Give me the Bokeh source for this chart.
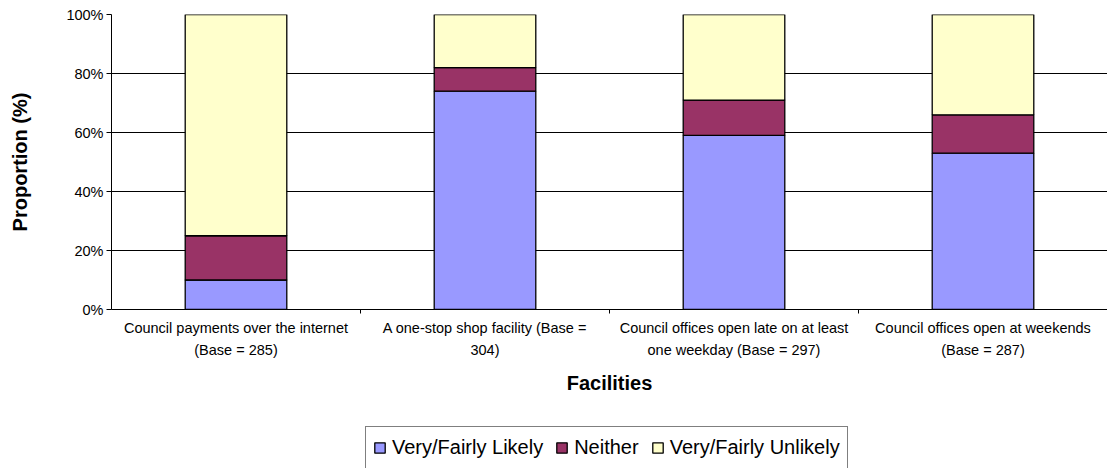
from bokeh.plotting import figure
from bokeh.layouts import column
from bokeh.models import (ColumnDataSource, Range1d, FixedTicker, PrintfTickFormatter,
                          Legend, LegendItem)
from bokeh.embed import file_html
from bokeh.resources import INLINE

categories = [
    "Council payments over the internet\n(Base = 285)",
    "A one-stop shop facility (Base =\n304)",
    "Council offices open late on at least\none weekday (Base = 297)",
    "Council offices open at weekends\n(Base = 287)",
]
series = ["Very/Fairly Likely", "Neither", "Very/Fairly Unlikely"]
likely = [10, 74, 59, 53]
neither = [15, 8, 12, 13]
unlikely = [75, 18, 29, 34]
y_ticks = [0, 20, 40, 60, 80, 100]
colors = ["#9999FF", "#993366", "#FFFFCC"]

FONT = "Liberation Sans"
stackers = ["likely", "neither", "unlikely"]

pos = [i + 0.5 for i in range(len(categories))]
boundaries = [i for i in range(1, len(categories))]
source = ColumnDataSource(dict(x=pos, likely=likely, neither=neither, unlikely=unlikely))

p = figure(width=1107, height=420,
           x_range=Range1d(0, len(categories)), y_range=Range1d(0, 100),
           output_backend="svg", toolbar_location=None,
           min_border_left=111, min_border_right=0, min_border_top=14,
           min_border_bottom=111)
p.outline_line_color = None
p.background_fill_color = "white"

rs = p.vbar_stack(stackers, x="x", width=0.408,
                  fill_color=colors, line_color="black", line_width=1.3,
                  source=source)

# y axis
p.yaxis.ticker = FixedTicker(ticks=y_ticks)
p.yaxis.formatter = PrintfTickFormatter(format="%d%%")
p.yaxis.axis_label = "Proportion (%)"
p.yaxis.axis_label_text_font = FONT
p.yaxis.axis_label_text_font_style = "bold"
p.yaxis.axis_label_text_font_size = "20px"
p.yaxis.axis_label_standoff = 32
p.yaxis.major_label_text_font = FONT
p.yaxis.major_label_text_font_size = "14.5px"
p.yaxis.major_label_standoff = 3
p.yaxis.major_tick_out = 5
p.yaxis.major_tick_in = 0
p.yaxis.minor_tick_line_color = None
p.yaxis.axis_line_color = "black"
p.yaxis.major_tick_line_color = "black"
p.yaxis.major_label_text_color = "black"
p.yaxis.axis_label_text_color = "black"

# x axis
p.xaxis.ticker = FixedTicker(ticks=pos, minor_ticks=boundaries)
p.xaxis.major_label_overrides = {x: c for x, c in zip(pos, categories)}
p.xaxis.major_tick_line_color = None
p.xaxis.minor_tick_out = 4
p.xaxis.minor_tick_in = 0
p.xaxis.minor_tick_line_color = "black"
p.xaxis.axis_line_color = "black"
p.xaxis.major_label_text_font = FONT
p.xaxis.major_label_text_font_size = "14.5px"
p.xaxis.major_label_text_line_height = 1.4
p.xaxis.major_label_standoff = 4
p.xaxis.major_label_text_color = "black"
p.xaxis.axis_label = "Facilities"
p.xaxis.axis_label_text_font = FONT
p.xaxis.axis_label_text_font_style = "bold"
p.xaxis.axis_label_text_font_size = "20px"
p.xaxis.axis_label_standoff = 11
p.xaxis.axis_label_text_color = "black"

p.xgrid.grid_line_color = None
p.ygrid.ticker = FixedTicker(ticks=y_ticks)
p.ygrid.grid_line_color = "black"
p.ygrid.grid_line_width = 1

# legend strip below the chart; hidden copies of the series carry the styles
lf = figure(width=1107, height=48, x_range=Range1d(0, 1), y_range=Range1d(0, 1),
            output_backend="svg", toolbar_location=None,
            x_axis_type=None, y_axis_type=None,
            min_border_left=0, min_border_right=0, min_border_top=0, min_border_bottom=0)
lf.outline_line_color = None
proxies = lf.vbar_stack(stackers, x="x", width=0.408,
                        fill_color=colors, line_color="black", line_width=1.3,
                        source=source, visible=False)

legend = Legend(items=[LegendItem(label=s, renderers=[r]) for s, r in zip(series, proxies)],
                orientation="horizontal", location=(254, -1),
                border_line_color="black", border_line_width=1,
                padding=7, spacing=12, label_standoff=6, margin=0,
                glyph_width=13, glyph_height=13, label_height=27,
                label_text_font=FONT, label_text_font_size="20px",
                label_text_color="black", background_fill_alpha=1,
                inactive_fill_alpha=0)
lf.add_layout(legend, "center")

layout = column(p, lf, spacing=0)
open("out.html", "w").write(file_html(layout, INLINE))
